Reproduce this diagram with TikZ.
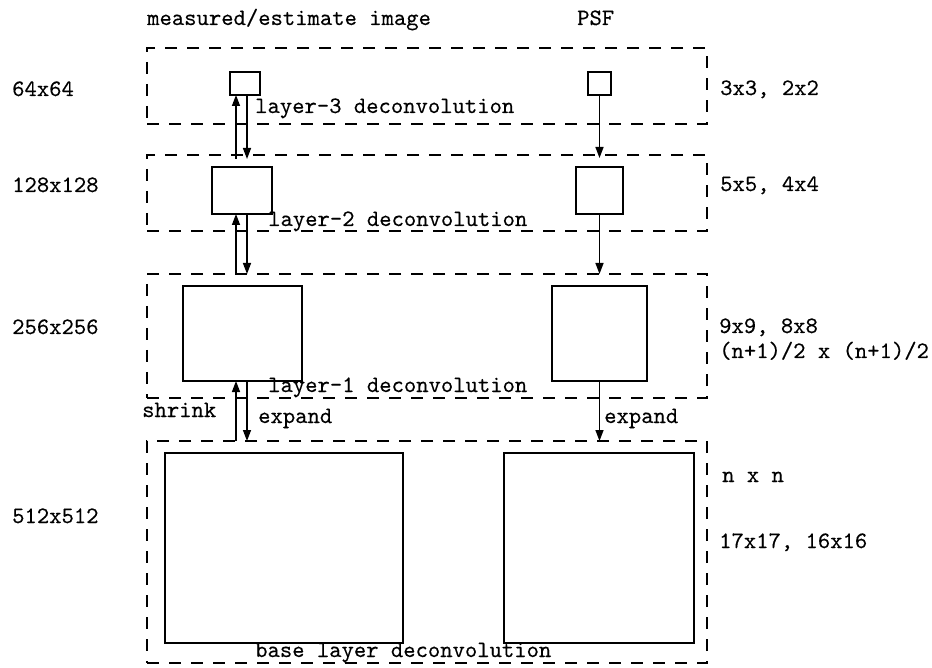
\documentclass[tikz,border=0pt]{standalone}
\usepackage{fontspec}
\newfontfamily\courfont[Extension=.otf, FakeBold=0.3]{lmmono10-regular}
\usetikzlibrary{arrows.meta}
\begin{document}
\begin{tikzpicture}[x=1pt,y=-1pt,
  box/.style={draw, line width=1.4pt, inner sep=0pt, outer sep=0pt, anchor=north west},
  layerbox/.style={draw, line width=1.4pt, dash pattern=on 12pt off 10pt, inner sep=0pt, outer sep=0pt, anchor=north west, minimum width=560pt},
  lbl/.style={font=\courfont\fontsize{23.5}{28}\selectfont, inner sep=0pt, anchor=base west},
  arr/.style={line width=1.4pt, -{Triangle[length=11pt,width=8pt]}}]
\path[use as bounding box] (0,0) rectangle (932,668);

% layer (dashed) boxes
\node[layerbox, minimum height=76pt] (L3) at (147,48) {};
\node[layerbox, minimum height=76pt] (L2) at (147,155) {};
\node[layerbox, minimum height=124pt] (L1) at (147,274) {};
\node[layerbox, minimum height=222pt] (L0) at (147,441) {};

% image boxes
\node[box, minimum width=30pt, minimum height=23pt] (i3) at (230,72) {};
\node[box, minimum width=60pt, minimum height=47pt] (i2) at (212,167) {};
\node[box, minimum width=119pt, minimum height=95pt] (i1) at (183,286) {};
\node[box, minimum width=238pt, minimum height=190pt] (i0) at (165,453) {};
% PSF boxes
\node[box, minimum width=23pt, minimum height=23pt] (p3) at (588,72) {};
\node[box, minimum width=47pt, minimum height=47pt] (p2) at (576,167) {};
\node[box, minimum width=95pt, minimum height=95pt] (p1) at (552,286) {};
\node[box, minimum width=190pt, minimum height=190pt] (p0) at (504,453) {};

\coordinate (upx) at (236,0);
\coordinate (dnx) at (247,0);

% image arrows
\draw[arr] ([yshift=-4pt]L2.north -| upx) -- (i3.south -| upx);
\draw[arr] (i3.south -| dnx) -- ([yshift=-4pt]L2.north -| dnx);
\draw[arr] (L1.north -| upx) -- (i2.south -| upx);
\draw[arr] (i2.south -| dnx) -- (L1.north -| dnx);
\draw[arr] (L0.north -| upx) -- (i1.south -| upx);
\draw[arr] (i1.south -| dnx) -- (L0.north -| dnx);
% PSF arrows
\draw[arr] (p3.south) -- ([yshift=-3pt]L2.north -| p3.south);
\draw[arr] (p2.south) -- (L1.north -| p2.south);
\draw[arr] (p1.south) -- (L0.north -| p1.south);

% titles
\node[lbl] (t1) at (147,25) {measured/estimate image};
\node[lbl] (t2) at (577,25) {PSF};
% left sizes
\node[lbl] (s3) at (12,96) {64x64};
\node[lbl] (s2) at (12,192) {128x128};
\node[lbl] (s1) at (12,334) {256x256};
\node[lbl] (s0) at (12,523) {512x512};
% right sizes
\node[lbl] (r3) at (720,95) {3x3, 2x2};
\node[lbl] (r2) at (720,191) {5x5, 4x4};
\node[lbl] (r1) at (719,333) {9x9, 8x8};
\node[lbl] (r1b) at (719,358) {(n+1)/2 x (n+1)/2};
\node[lbl] (r0) at (722,482) {n x n};
\node[lbl] (r0b) at (719,548) {17x17, 16x16};
% layer labels
\node[lbl] (d3) at (255,113) {layer-3 deconvolution};
\node[lbl] (d2) at (268,226) {layer-2 deconvolution};
\node[lbl] (d1) at (268,392) {layer-1 deconvolution};
\node[lbl] (d0) at (255,657) {base layer deconvolution};
% arrow labels
\node[lbl] (sh) at (142,417) {shrink};
\node[lbl] (e1) at (258,423) {expand};
\node[lbl] (e2) at (604,423) {expand};
\end{tikzpicture}
\end{document}
